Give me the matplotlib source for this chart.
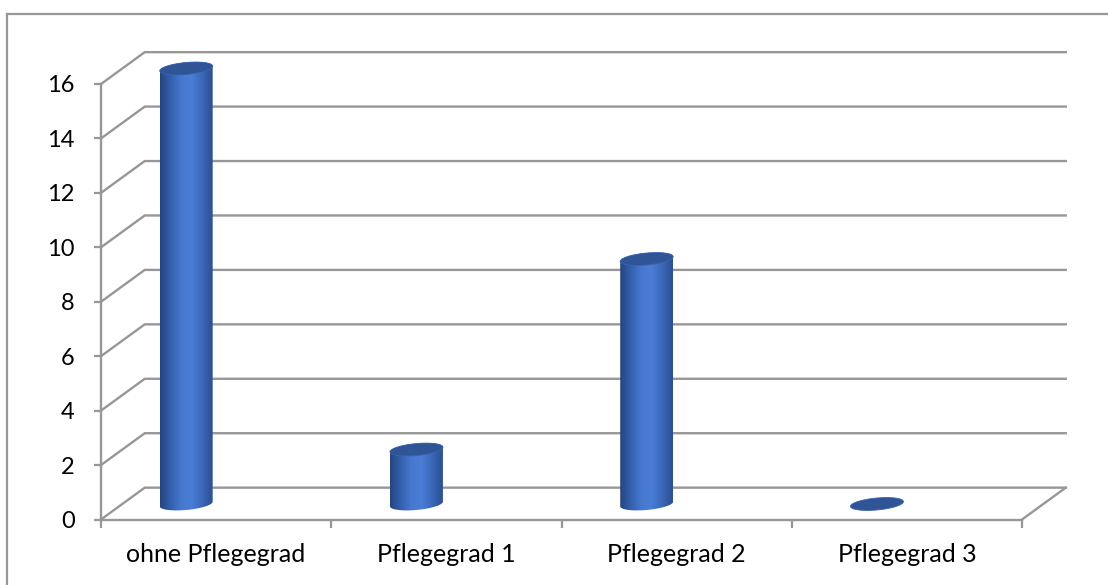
import numpy as np
import matplotlib.pyplot as plt
from matplotlib.patches import Polygon
from matplotlib.lines import Line2D
from matplotlib.colors import LinearSegmentedColormap

categories = ['ohne Pflegegrad', 'Pflegegrad 1', 'Pflegegrad 2', 'Pflegegrad 3']
values = [16, 2, 9, 0]
y_ticks = [0, 2, 4, 6, 8, 10, 12, 14, 16]

plt.rcParams['font.family'] = ['Lato', 'DejaVu Sans']

grid_col = '#979797'
depth_x, depth_y = 0.19, 1.17      # back wall offset (in data units)
bar_shift, bar_base = -0.13, 0.57  # cylinders sit midway in depth
half_w, ell_h, tilt = 0.115, 0.22, 0.75

fig = plt.figure(figsize=(11.08, 5.85), dpi=100)
ax = fig.add_axes([101 / 1108, 1 - 519.5 / 585, 921 / 1108, 435.5 / 585])
ax.set_xlim(0, len(categories))
ax.set_ylim(0, 16)

# outer frame of the chart area
fig.add_artist(Line2D([7 / 1108, 1.0], [1 - 14 / 585] * 2, transform=fig.transFigure,
                      color=grid_col, lw=1.6))
fig.add_artist(Line2D([7 / 1108] * 2, [0, 1 - 14 / 585], transform=fig.transFigure,
                      color=grid_col, lw=1.6))

# left wall diagonals + back wall gridlines
n = len(categories)
for v in y_ticks:
    ax.plot([0, depth_x, n + depth_x], [v, v + depth_y, v + depth_y],
            color=grid_col, lw=1.7, clip_on=False, zorder=1, solid_joinstyle='miter')
ax.plot([n, n + depth_x], [0, depth_y], color=grid_col, lw=1.7, clip_on=False, zorder=1)

for s in ['top', 'right']:
    ax.spines[s].set_visible(False)
for s in ['left', 'bottom']:
    ax.spines[s].set_color(grid_col)
    ax.spines[s].set_linewidth(1.7)

ax.set_yticks(y_ticks)
ax.tick_params(axis='y', length=5, width=1.6, color=grid_col, pad=14, labelsize=17)
ax.set_xticks(np.arange(n) + 0.5)
ax.set_xticklabels(categories)
ax.set_xticks(np.arange(n + 1), minor=True)
ax.tick_params(axis='x', which='major', length=0, pad=17, labelsize=18)
ax.tick_params(axis='x', which='minor', length=6, width=1.6, color=grid_col)

cyl_cmap = LinearSegmentedColormap.from_list(
    'cyl', ['#26457f', '#3360ae', '#4778cf', '#4a7dd6', '#3a67b8', '#2c5093'])
grad = np.linspace(0, 1, 200).reshape(1, -1)


def ellipse(cx, cy, t):
    x = cx + half_w * np.cos(t)
    y = cy + ell_h * np.sin(t) + tilt * (x - cx)
    return np.column_stack([x, y])


for i, v in enumerate(values):
    cx = i + 0.5 + bar_shift
    y0 = bar_base
    y1 = bar_base + v
    if v > 0:
        lower = ellipse(cx, y0, np.linspace(np.pi, 2 * np.pi, 60))
        upper = ellipse(cx, y1, np.linspace(0, np.pi, 60))
        body = Polygon(np.vstack([lower, upper]), closed=True, facecolor='none',
                       edgecolor='none', clip_on=False, transform=ax.transData)
        ax.add_patch(body)
        im = ax.imshow(grad, cmap=cyl_cmap, aspect='auto', zorder=3,
                       extent=[cx - half_w, cx + half_w, y0 - 0.5, y1 + 0.5],
                       interpolation='bilinear')
        im.set_clip_path(body)
        im.set_clip_box(fig.bbox)
    top = Polygon(ellipse(cx, y1, np.linspace(0, 2 * np.pi, 120)), closed=True,
                  facecolor='#2f5597', edgecolor='#3a64ad', lw=0.6,
                  clip_on=False, zorder=4)
    ax.add_patch(top)

ax.set_xlim(0, n)
ax.set_ylim(0, 16)

fig.savefig('out.png', dpi=100)
